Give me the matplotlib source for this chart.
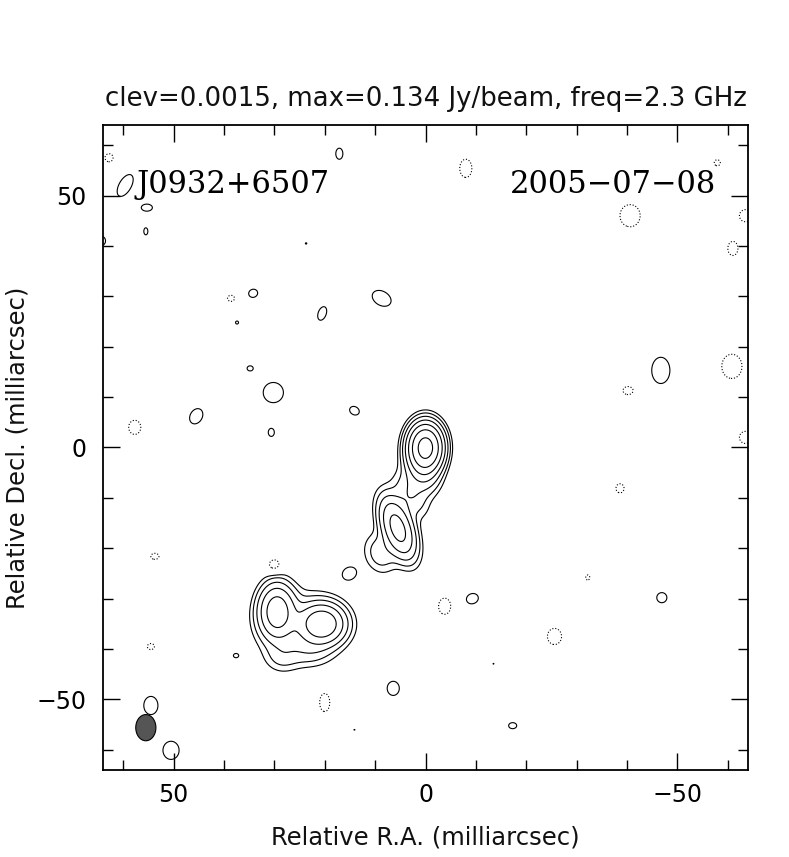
import numpy as np
import matplotlib
matplotlib.use("Agg")
import matplotlib.pyplot as plt
from matplotlib.patches import Ellipse
from matplotlib.ticker import MultipleLocator

# ---------------- data ----------------
source_name = "J0932+6507"
obs_date = "2005\u221207\u221208"
clev = 0.0015
peak = 0.134
freq = 2.3
level_mult = [-1, 1, 2, 4, 8, 16, 32, 64]

# Source model components (RA offset mas, Dec offset mas, Jy/beam, sigma_x, sigma_y, PA deg)
comp_x = [0.0, 0.6, 3.0, 5.5, 9.0, 29.5, 20.5, 24.5, 28.5, 23.0]
comp_y = [0.0, -4.5, -9.5, -16.0, -21.0, -32.5, -35.0, -35.5, -41.5, -40.5]
comp_flux = [0.128, 0.012, 0.005, 0.032, 0.0045, 0.036, 0.040, 0.006, 0.003, 0.0028]
comp_sx = [1.8, 2.0, 1.8, 1.7, 2.0, 2.0, 2.5, 5.0, 2.2, 2.8]
comp_sy = [2.5, 2.8, 3.0, 3.6, 2.6, 3.0, 2.2, 4.0, 2.0, 1.8]
comp_pa = [0, 10, 30, 20, 20, 0, 0, 0, 0, 0]

# Positive noise islands (x, y, rx, ry)
pos_x = [59.6, 55.3, 55.5, 64.5, 17.1, 23.7, 34.2, 37.4, 20.5, 8.7, 34.8, 30.2, 45.5,
         14.1, 30.6, 15.1, 37.6, 54.5, 50.5, 6.4, -9.3, -17.3, -46.9, -46.7, 14.1, -13.5]
pos_y = [52.0, 47.6, 42.9, 41.0, 58.3, 40.5, 30.6, 24.8, 26.6, 29.6, 15.7, 10.9, 6.2,
         7.3, 3.0, -25.0, -41.3, -51.2, -60.1, -47.8, -30.0, -55.2, -29.8, 15.3, -56.0, -42.9]
pos_rx = [1.2, 1.1, 0.4, 1.0, 0.7, 0.15, 0.9, 0.3, 0.8, 2.0, 0.6, 2.0, 1.2,
          1.0, 0.6, 1.4, 0.5, 1.4, 1.6, 1.2, 1.2, 0.8, 1.0, 1.8, 0.1, 0.1]
pos_ry = [2.4, 0.7, 0.7, 1.0, 1.1, 0.15, 0.8, 0.3, 1.4, 1.4, 0.5, 2.0, 1.6,
          0.8, 0.8, 1.2, 0.4, 1.8, 1.8, 1.4, 1.0, 0.6, 1.0, 2.6, 0.1, 0.1]
pos_pa = [-30, 0, 0, 0, 0, 0, 20, 0, -20, -30, 0, 0, -30,
          -30, 0, 30, 0, 0, 0, 0, 20, 0, 0, 0, 0, 0]

# Negative noise islands (x, y, rx, ry)
neg_x = [62.8, -8.0, -40.6, -57.9, -63.5, -61.0, 38.6, 57.7, -40.2, -60.8, -63.5,
         -38.6, 53.7, 30.0, -3.8, -32.2, -25.6, 54.5, 20.0]
neg_y = [57.5, 55.4, 46.0, 56.5, 46.0, 39.5, 29.6, 4.0, 11.3, 16.1, 2.0,
         -8.1, -21.6, -23.4, -31.5, -25.8, -37.5, -39.5, -50.6]
neg_rx = [0.8, 1.2, 2.0, 0.6, 1.2, 1.0, 0.7, 1.2, 1.0, 2.0, 1.2,
          0.8, 0.8, 1.2, 1.2, 0.4, 1.4, 0.7, 1.0]
neg_ry = [0.8, 1.8, 2.2, 0.6, 1.2, 1.4, 0.6, 1.4, 0.8, 2.4, 1.2,
          0.9, 0.6, 1.2, 1.6, 0.5, 1.6, 0.6, 1.8]

# Restoring beam (center x, y, width, height)
beam_x, beam_y = 55.5, -55.6
beam_w, beam_h = 4.0, 5.2

# ---------------- model image ----------------
xg = np.linspace(64, -64, 900)
yg = np.linspace(-64, 64, 900)
X, Y = np.meshgrid(xg, yg)
img = np.zeros_like(X)


def gauss(x0, y0, a, sx, sy, pa):
    t = np.deg2rad(pa)
    dx = X - x0
    dy = Y - y0
    u = dx * np.cos(t) - dy * np.sin(t)
    v = dx * np.sin(t) + dy * np.cos(t)
    return a * np.exp(-0.5 * ((u / sx) ** 2 + (v / sy) ** 2))


for x0, y0, a, sx, sy, pa in zip(comp_x, comp_y, comp_flux, comp_sx, comp_sy, comp_pa):
    img += gauss(x0, y0, a, sx, sy, pa)

amp_isl = 1.6 * clev
k = np.sqrt(2 * np.log(amp_isl / clev))
for x0, y0, rx, ry, pa in zip(pos_x, pos_y, pos_rx, pos_ry, pos_pa):
    img += gauss(x0, y0, amp_isl, rx / k, ry / k, pa)
for x0, y0, rx, ry in zip(neg_x, neg_y, neg_rx, neg_ry):
    img -= gauss(x0, y0, amp_isl, rx / k, ry / k, 0)

levels = [clev * m for m in level_mult]

# ---------------- figure ----------------
fig = plt.figure(figsize=(7.89, 8.57), dpi=100)
ax = fig.add_axes([103 / 789, 1 - 770 / 857, 645 / 789, 645 / 857])

ax.contour(X, Y, img, levels=levels[:1], colors="black", linewidths=0.8,
           linestyles="dotted")
ax.contour(X, Y, img, levels=levels[1:], colors="black", linewidths=0.8,
           linestyles="solid")

ax.add_patch(Ellipse((beam_x, beam_y), beam_w, beam_h, angle=0,
                     facecolor="#555555", edgecolor="black", linewidth=0.8))

ax.set_xlim(64, -64)
ax.set_ylim(-64, 64)
ax.set_aspect("auto")

ax.xaxis.set_major_locator(MultipleLocator(50))
ax.xaxis.set_minor_locator(MultipleLocator(10))
ax.yaxis.set_major_locator(MultipleLocator(50))
ax.yaxis.set_minor_locator(MultipleLocator(10))
ax.tick_params(which="both", direction="in", top=True, right=True, width=1.0)
ax.tick_params(which="major", length=12, labelsize=17)
ax.tick_params(axis="x", which="major", pad=9)
ax.tick_params(axis="y", which="major", pad=12)
ax.tick_params(which="minor", length=7)
for s in ax.spines.values():
    s.set_linewidth(1.3)

ax.set_xticks([50, 0, -50])
ax.set_xticklabels(["50", "0", "\u221250"])
ax.set_yticks([-50, 0, 50])
ax.set_yticklabels(["\u221250", "0", "50"])

lab_font = dict(fontsize=17.5, family="DejaVu Sans", color="#111111")
ax.set_xlabel("Relative R.A. (milliarcsec)", **lab_font)
ax.set_ylabel("Relative Decl. (milliarcsec)", **lab_font)
ax.xaxis.set_label_coords(0.5, (770 - 838) / 645, transform=ax.transAxes)
ax.yaxis.set_label_coords((18 - 103) / 645, 0.5, transform=ax.transAxes)
ax.xaxis.label.set_va("center")
ax.yaxis.label.set_va("center")
ax.set_title(f"clev={clev}, max={peak} Jy/beam, freq={freq} GHz", pad=14,
             fontsize=18.7, family="DejaVu Sans", color="#111111")

ax.text(0.052, 0.932, source_name, transform=ax.transAxes, fontsize=22,
        family="DejaVu Serif", ha="left", va="top")
ax.text(0.95, 0.932, obs_date, transform=ax.transAxes, fontsize=22,
        family="DejaVu Serif", ha="right", va="top")

fig.savefig("out.png", dpi=100)
